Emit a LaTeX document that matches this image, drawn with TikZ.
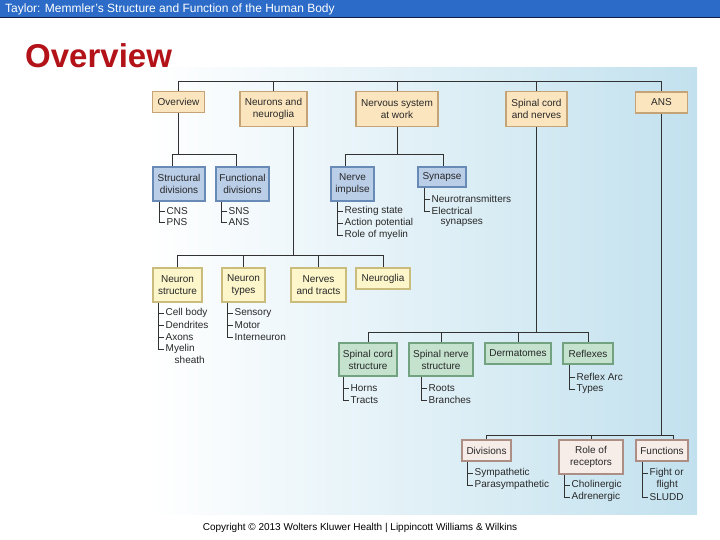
\documentclass[tikz,border=0pt]{standalone}
\usepackage{fontspec}
\setmainfont{Liberation Sans}
\usetikzlibrary{calc}
\definecolor{hdr}{RGB}{44,108,200}
\definecolor{hdrline}{RGB}{20,30,70}
\definecolor{ttl}{RGB}{178,18,24}
\definecolor{panelm}{RGB}{234,244,250}
\definecolor{panelr}{RGB}{194,225,238}
\definecolor{linec}{RGB}{50,50,50}
\definecolor{txtc}{RGB}{40,40,40}
\definecolor{fa}{RGB}{251,229,190}
\definecolor{da}{RGB}{196,164,118}
\definecolor{fb}{RGB}{186,206,232}
\definecolor{db}{RGB}{104,138,182}
\definecolor{fc}{RGB}{252,246,202}
\definecolor{dc}{RGB}{202,188,124}
\definecolor{fd}{RGB}{196,226,206}
\definecolor{dd}{RGB}{114,162,128}
\definecolor{fe}{RGB}{246,236,232}
\definecolor{de}{RGB}{172,142,132}
\begin{document}
\begin{tikzpicture}[x=1pt,y=-1pt,
  ln/.style={draw=linec, line width=0.8pt},
  bx/.style={draw, line width=1.4pt, inner sep=0pt, align=center,
    font=\fontsize{10}{12}\selectfont, text=txtc},
  bxa/.style={bx, fill=fa, draw=da},
  bxb/.style={bx, fill=fb, draw=db},
  bxc/.style={bx, fill=fc, draw=dc},
  bxd/.style={bx, fill=fd, draw=dd},
  bxe/.style={bx, fill=fe, draw=de},
  itm/.style={anchor=west, inner sep=0pt, inner xsep=1.5pt,
    font=\fontsize{10}{12}\selectfont, text=txtc}]
\useasboundingbox (0,0) rectangle (720,540);
\fill[white] (0,0) rectangle (720,540);
% header
\fill[hdr] (0,0) rectangle (720,18);
\draw[hdrline, line width=1pt] (0,18) -- (720,18);
\node[anchor=west, inner sep=0pt, text=white, font=\fontsize{12}{14}\selectfont] (hd) at (5,9.5)
  {Taylor: Memmler's Structure and Function of the Human Body};
\node[anchor=base west, inner sep=0pt, text=ttl, font=\fontsize{33}{36}\selectfont\bfseries] (tt) at (25,68) {Overview};
% panel
\shade[left color=white, middle color=panelm, right color=panelr] (148,68) rectangle (697,514);
\node[inner sep=0pt, font=\fontsize{10}{12}\selectfont, text=black] (cp) at (360,528)
  {Copyright \textcopyright{} 2013 Wolters Kluwer Health | Lippincott Williams \& Wilkins};

% row 1
\node[bxa, minimum width=52, minimum height=21] (ov) at (178.5,102) {Overview};
\node[bxa, minimum width=67, minimum height=35] (nn) at (273.5,109) {Neurons and\\neuroglia};
\node[bxa, minimum width=82, minimum height=35] (ns) at (397,109) {Nervous system\\at work};
\node[bxa, minimum width=61, minimum height=35] (sc) at (536.5,109) {Spinal cord\\and nerves};
\node[bxa, minimum width=52, minimum height=21] (ans) at (661.5,102.5) {ANS};
% row 2
\node[bxb, minimum width=52, minimum height=34] (sd) at (179,184) {Structural\\divisions};
\node[bxb, minimum width=53, minimum height=34] (fdv) at (242.5,184) {Functional\\divisions};
\node[bxb, minimum width=43, minimum height=34] (ni) at (352.5,184) {Nerve\\impulse};
\node[bxb, minimum width=48, minimum height=20] (sy) at (442,177) {Synapse};
% row 3
\node[bxc, minimum width=49, minimum height=34] (nst) at (177.5,285) {Neuron\\structure};
\node[bxc, minimum width=43, minimum height=34] (nty) at (243.5,285) {Neuron\\types};
\node[bxc, minimum width=55, minimum height=34] (ntr) at (318.5,285) {Nerves\\and tracts};
\node[bxc, minimum width=54, minimum height=21] (ngl) at (383,278.5) {Neuroglia};
% row 4
\node[bxd, minimum width=58, minimum height=33] (scs) at (368,359.5) {Spinal cord\\structure};
\node[bxd, minimum width=64, minimum height=33] (sns) at (441,359.5) {Spinal nerve\\structure};
\node[bxd, minimum width=66, minimum height=21] (der) at (518,353.5) {Dermatomes};
\node[bxd, minimum width=50, minimum height=21] (rfx) at (588,353.5) {Reflexes};
% row 5
\node[bxe, minimum width=49, minimum height=21] (dvs) at (486.5,450.5) {Divisions};
\node[bxe, minimum width=64, minimum height=34] (rol) at (591,457) {Role of\\receptors};
\node[bxe, minimum width=52, minimum height=21] (fun) at (662,450.5) {Functions};

% tree connectors
\coordinate (top) at (0,81);
\draw[ln] (ov.north) -- (ov.north |- top) -- (ans.north |- top) -- (ans.north);
\draw[ln] (nn.north) -- (nn.north |- top);
\draw[ln] (ns.north) -- (ns.north |- top);
\draw[ln] (sc.north) -- (sc.north |- top);

\coordinate (h2) at (0,154);
\coordinate (d1) at (172,154);
\coordinate (d2) at (236,154);
\coordinate (d3) at (345,154);
\coordinate (d4) at (443,154);
\draw[ln] (ov.south) -- (ov.south |- h2);
\draw[ln] (sd.north -| d1) -- (d1) -- (d2) -- (fdv.north -| d2);
\draw[ln] (ns.south) -- (ns.south |- h2);
\draw[ln] (ni.north -| d3) -- (d3) -- (d4) -- (sy.north -| d4);

\coordinate (v1) at (293,0);
\coordinate (h3) at (0,255);
\draw[ln] (nn.south -| v1) -- (v1 |- h3);
\draw[ln] (nst.north) -- (nst.north |- h3) -- (ngl.north |- h3) -- (ngl.north);
\draw[ln] (nty.north) -- (nty.north |- h3);
\draw[ln] (ntr.north) -- (ntr.north |- h3);

\coordinate (h4) at (0,332);
\draw[ln] (sc.south) -- (sc.south |- h4);
\draw[ln] (scs.north) -- (scs.north |- h4) -- (rfx.north |- h4) -- (rfx.north);
\draw[ln] (sns.north) -- (sns.north |- h4);
\draw[ln] (der.north) -- (der.north |- h4);

\coordinate (h5) at (0,435);
\coordinate (d5) at (673,435);
\draw[ln] (ans.south) -- (ans.south |- h5);
\draw[ln] (dvs.north) -- (dvs.north |- h5) -- (d5) -- (fun.north -| d5);
\draw[ln] (rol.north) -- (rol.north |- h5);

% lists
% Structural divisions
\node[itm] (a1) at (165,211) {CNS};
\node[itm] (a2) at (165,222) {PNS};
\coordinate (ca) at ($(a2.west)+(-5.5,0)$);
\draw[ln] (ca |- sd.south) -- (ca) -- (a2.west);
\draw[ln] (a1.west) -- ++(-5.5,0);
% Functional divisions
\node[itm] (b1) at (227,211) {SNS};
\node[itm] (b2) at (227,222) {ANS};
\coordinate (cb) at ($(b2.west)+(-5.5,0)$);
\draw[ln] (cb |- fdv.south) -- (cb) -- (b2.west);
\draw[ln] (b1.west) -- ++(-5.5,0);
% Nerve impulse
\node[itm] (e1) at (343,211) {Resting state};
\node[itm] (e2) at (343,223) {Action potential};
\node[itm] (e3) at (343,235) {Role of myelin};
\coordinate (ce) at ($(e3.west)+(-5.5,0)$);
\draw[ln] (ce |- ni.south) -- (ce) -- (e3.west);
\draw[ln] (e1.west) -- ++(-5.5,0);
\draw[ln] (e2.west) -- ++(-5.5,0);
% Synapse
\node[itm] (g1) at (430,199) {Neurotransmitters};
\node[itm] (g2) at (430,211) {Electrical};
\node[itm] (g3) at (439,223) {synapses};
\coordinate (cg) at ($(g2.west)+(-5.5,0)$);
\draw[ln] (cg |- sy.south) -- (cg) -- (g2.west);
\draw[ln] (g1.west) -- ++(-5.5,0);
% Neuron structure
\node[itm] (k1) at (164,313) {Cell body};
\node[itm] (k2) at (164,325) {Dendrites};
\node[itm] (k3) at (164,337) {Axons};
\node[itm] (k4) at (164,349) {Myelin};
\node[itm] (k5) at (173,360) {sheath};
\coordinate (ck) at ($(k4.west)+(-5.5,0)$);
\draw[ln] (ck |- nst.south) -- (ck) -- (k4.west);
\draw[ln] (k1.west) -- ++(-5.5,0);
\draw[ln] (k2.west) -- ++(-5.5,0);
\draw[ln] (k3.west) -- ++(-5.5,0);
% Neuron types
\node[itm] (m1) at (233,313) {Sensory};
\node[itm] (m2) at (233,325) {Motor};
\node[itm] (m3) at (233,337) {Interneuron};
\coordinate (cm) at ($(m3.west)+(-5.5,0)$);
\draw[ln] (cm |- nty.south) -- (cm) -- (m3.west);
\draw[ln] (m1.west) -- ++(-5.5,0);
\draw[ln] (m2.west) -- ++(-5.5,0);
% Spinal cord structure
\node[itm] (p1) at (349,388) {Horns};
\node[itm] (p2) at (349,400) {Tracts};
\coordinate (cpp) at ($(p2.west)+(-5.5,0)$);
\draw[ln] (cpp |- scs.south) -- (cpp) -- (p2.west);
\draw[ln] (p1.west) -- ++(-5.5,0);
% Spinal nerve structure
\node[itm] (q1) at (427,388) {Roots};
\node[itm] (q2) at (427,400) {Branches};
\coordinate (cq) at ($(q2.west)+(-5.5,0)$);
\draw[ln] (cq |- sns.south) -- (cq) -- (q2.west);
\draw[ln] (q1.west) -- ++(-5.5,0);
% Reflexes
\node[itm] (r1) at (575,377) {Reflex Arc};
\node[itm] (r2) at (575,389) {Types};
\coordinate (cr) at ($(r2.west)+(-5.5,0)$);
\draw[ln] (cr |- rfx.south) -- (cr) -- (r2.west);
\draw[ln] (r1.west) -- ++(-5.5,0);
% Divisions
\node[itm] (s1) at (473,473) {Sympathetic};
\node[itm] (s2) at (473,485) {Parasympathetic};
\coordinate (cs) at ($(s2.west)+(-5.5,0)$);
\draw[ln] (cs |- dvs.south) -- (cs) -- (s2.west);
\draw[ln] (s1.west) -- ++(-5.5,0);
% Role of receptors
\node[itm] (u1) at (570,485) {Cholinergic};
\node[itm] (u2) at (570,497) {Adrenergic};
\coordinate (cu) at ($(u2.west)+(-5.5,0)$);
\draw[ln] (cu |- rol.south) -- (cu) -- (u2.west);
\draw[ln] (u1.west) -- ++(-5.5,0);
% Functions
\node[itm] (w1) at (648,473) {Fight or};
\node[itm] (w2) at (655,485) {flight};
\node[itm] (w3) at (648,497) {SLUDD};
\coordinate (cw) at ($(w3.west)+(-5.5,0)$);
\draw[ln] (cw |- fun.south) -- (cw) -- (w3.west);
\draw[ln] (w1.west) -- ++(-5.5,0);
\end{tikzpicture}
\end{document}
